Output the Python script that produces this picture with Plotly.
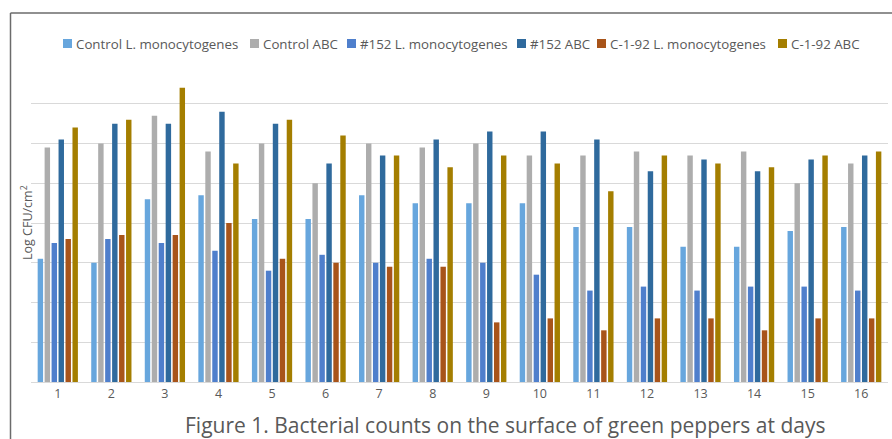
import plotly.graph_objects as go

days = [str(i) for i in range(1, 17)]

control_lm = [3.1, 3.0, 4.6, 4.7, 4.1, 4.1, 4.7, 4.5, 4.5, 4.5, 3.9, 3.9, 3.4, 3.4, 3.8, 3.9]
control_abc = [5.9, 6.0, 6.7, 5.8, 6.0, 5.0, 6.0, 5.9, 6.0, 5.7, 5.7, 5.8, 5.7, 5.8, 5.0, 5.5]
s152_lm = [3.5, 3.6, 3.5, 3.3, 2.8, 3.2, 3.0, 3.1, 3.0, 2.7, 2.3, 2.4, 2.3, 2.4, 2.4, 2.3]
s152_abc = [6.1, 6.5, 6.5, 6.8, 6.5, 5.5, 5.7, 6.1, 6.3, 6.3, 6.1, 5.3, 5.6, 5.3, 5.6, 5.7]
c192_lm = [3.6, 3.7, 3.7, 4.0, 3.1, 3.0, 2.9, 2.9, 1.5, 1.6, 1.3, 1.6, 1.6, 1.3, 1.6, 1.6]
c192_abc = [6.4, 6.6, 7.4, 5.5, 6.6, 6.2, 5.7, 5.4, 5.7, 5.5, 4.8, 5.7, 5.5, 5.4, 5.7, 5.8]

series_names = ["Control L. monocytogenes", "Control ABC", "#152 L. monocytogenes",
                "#152 ABC", "C-1-92 L. monocytogenes", "C-1-92 ABC"]
series_values = [control_lm, control_abc, s152_lm, s152_abc, c192_lm, c192_abc]
series_colors = ["#67A6DD", "#ADADAD", "#4F7FCC", "#2F6A9D", "#A8541A", "#A47E00"]

# legend layout (pixel left edges of marker squares)
legend_marker_x = [63, 250, 347, 517, 597, 778]

W, H = 892, 439
ml, mr, mt, mb = 31, 4, 64, 57
pw, ph = W - ml - mr, H - mt - mb


def px_x(x):
    return (x - ml) / pw


def px_y(y):
    return (H - mb - y) / ph


fig = go.Figure()
for name, vals, color in zip(series_names, series_values, series_colors):
    fig.add_trace(go.Bar(x=days, y=vals, name=name, showlegend=False,
                         marker=dict(color=color, line=dict(width=0))))

frame = dict(color="#6B6B6B", width=1.5)
shapes = [
    dict(type="line", xref="paper", yref="paper", layer="below",
         x0=px_x(10.5), x1=px_x(10.5), y0=px_y(470), y1=px_y(13), line=frame),
    dict(type="line", xref="paper", yref="paper", layer="below",
         x0=px_x(10.5), x1=px_x(900), y0=px_y(13), y1=px_y(13), line=frame),
]
annotations = [
    dict(text="Log CFU/cm<sup>2</sup>", xref="paper", yref="paper", x=px_x(27), y=px_y(223),
         xanchor="center", yanchor="middle", textangle=-90, showarrow=False,
         font=dict(size=12.5, color="#595959")),
    dict(text="Figure 1. Bacterial counts on the surface of green peppers at days",
         xref="paper", yref="paper", x=px_x(505), y=px_y(425), xanchor="center", yanchor="middle",
         showarrow=False, font=dict(size=21, color="#595959")),
]

ly = 43.5
for name, color, mx in zip(series_names, series_colors, legend_marker_x):
    shapes.append(dict(type="rect", xref="paper", yref="paper",
                       x0=px_x(mx), x1=px_x(mx + 9), y0=px_y(ly + 4.5), y1=px_y(ly - 4.5),
                       line=dict(width=0), fillcolor=color))
    annotations.append(dict(text=name, xref="paper", yref="paper", x=px_x(mx + 11), y=px_y(ly),
                            xanchor="left", yanchor="middle", showarrow=False,
                            font=dict(size=13.3, color="#595959")))

fig.update_layout(
    width=W, height=H,
    margin=dict(l=ml, r=mr, t=mt, b=mb),
    paper_bgcolor="white", plot_bgcolor="white",
    font=dict(family="Open Sans, sans-serif", color="#595959", size=12),
    barmode="group", bargap=0.22, bargroupgap=0.22,
    showlegend=False,
    xaxis=dict(showgrid=False, showline=True, linecolor="#D9D9D9", linewidth=1,
               ticks="", tickfont=dict(size=12.5, color="#595959")),
    yaxis=dict(range=[0, 8], dtick=1, showgrid=True, gridcolor="#D9D9D9", gridwidth=1,
               showticklabels=False, zeroline=False, showline=False, ticks=""),
    shapes=shapes,
    annotations=annotations,
)

fig.write_html("out.html", config={"displayModeBar": False},
               post_script="document.body.style.margin='0px';"
                           "document.body.style.overflow='hidden';"
                           "document.documentElement.style.overflow='hidden';")
